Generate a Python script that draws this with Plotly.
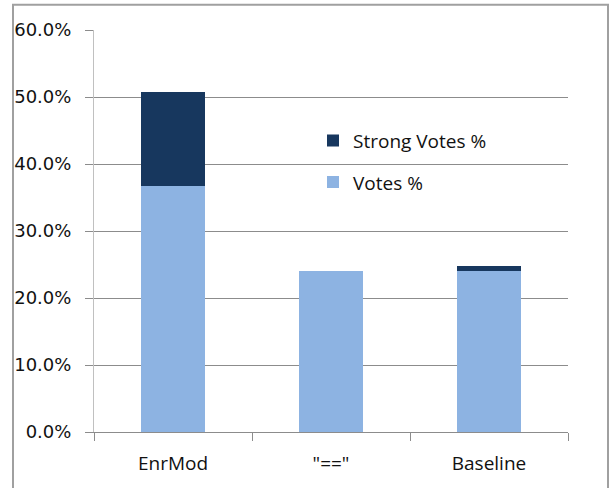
import plotly.graph_objects as go

# Vote shares per method (fractions)
methods = ["EnrMod", "\"==\"", "Baseline"]
votes_pct = [0.367, 0.241, 0.241]
strong_votes_pct = [0.141, 0.0, 0.007]
y_ticks = [0.0, 0.1, 0.2, 0.3, 0.4, 0.5, 0.6]

LIGHT = "#8DB3E2"
DARK = "#17375E"
GRID = "#8C8C8C"

fig = go.Figure()
fig.add_trace(go.Bar(x=methods, y=votes_pct, name="Votes %",
                     marker=dict(color=LIGHT, line=dict(width=0)),
                     legendgroup="v", legendrank=2))
fig.add_trace(go.Bar(x=methods, y=strong_votes_pct, name="Strong Votes %",
                     marker=dict(color=DARK, line=dict(width=0)),
                     legendgroup="s", legendrank=1))

# Plot area: x 94..568, y 30..434 in a 611x488 page
L, R, T, B = 94, 568, 30, 434
W, H = 611, 488

def px_x(px):
    return (px - L) / (R - L)

def px_y(py):
    return (B - py) / (B - T)

fig.update_layout(
    width=W, height=H,
    margin=dict(l=L, r=W - R, t=T, b=H - B, pad=0),
    paper_bgcolor="white", plot_bgcolor="white",
    barmode="stack", bargap=0.6,
    showlegend=True,
    legend=dict(x=px_x(313), y=px_y(122), xanchor="left", yanchor="top",
                bgcolor="rgba(0,0,0,0)", traceorder="grouped",
                tracegroupgap=14,
                font=dict(family="Open Sans", size=19, color="#111111"),
                itemwidth=30),
    xaxis=dict(type="category", showgrid=False, showline=True,
               linecolor=GRID, linewidth=1,
               ticks="outside", ticklen=8, tickcolor=GRID,
               tickson="boundaries",
               ticklabelstandoff=14,
               tickfont=dict(family="Open Sans", size=19, color="#111111")),
    yaxis=dict(range=[0, 0.6], tickvals=y_ticks, tickformat=".1%",
               showgrid=True, gridcolor=GRID, gridwidth=1,
               showline=True, linecolor="#C0C0C0", linewidth=1,
               ticks="outside", ticklen=8, tickcolor=GRID,
               ticklabelstandoff=10, zeroline=False,
               tickfont=dict(family="DejaVu Sans", size=18, color="#111111")),
    shapes=[dict(type="rect", xref="paper", yref="paper",
                 x0=px_x(13), x1=px_x(608), y0=px_y(500), y1=px_y(4.5),
                 line=dict(color="#A0A0A0", width=2), layer="below")],
)

fig.write_html("out.html")
